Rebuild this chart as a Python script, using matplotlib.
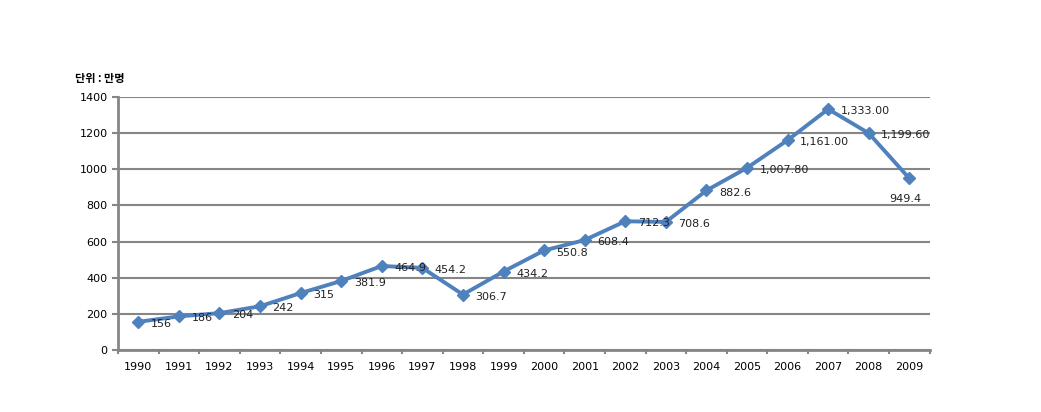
import matplotlib.pyplot as plt
import numpy as np

plt.rcParams['font.family'] = ['DejaVu Sans', 'Noto Sans CJK KR']

# 연도별 값 (단위: 만명)
years = ["1990", "1991", "1992", "1993", "1994", "1995", "1996", "1997", "1998", "1999",
         "2000", "2001", "2002", "2003", "2004", "2005", "2006", "2007", "2008", "2009"]
values = [156, 186, 204, 242, 315, 381.9, 464.9, 454.2, 306.7, 434.2,
          550.8, 608.4, 712.3, 708.6, 882.6, 1007.8, 1161.0, 1333.0, 1199.6, 949.4]
labels = ["156", "186", "204", "242", "315", "381.9", "464.9", "454.2", "306.7", "434.2",
          "550.8", "608.4", "712.3", "708.6", "882.6", "1,007.80", "1,161.00", "1,333.00",
          "1,199.60", "949.4"]
yticks = [0, 200, 400, 600, 800, 1000, 1200, 1400]

fig = plt.figure(figsize=(10.41, 4.12), dpi=100)
ax = fig.add_axes([0.1134, 0.1505, 0.7796, 0.6141])

x = np.arange(len(years))
ax.plot(x, values, color="#4F81BD", lw=2.8, marker="D", ms=6, zorder=3)

for i, (v, t) in enumerate(zip(values, labels)):
    if i == len(values) - 1:
        # 마지막 값은 아래쪽에 표시
        ax.annotate(t, (i, v), xytext=(-3, -15), textcoords="offset points",
                    ha="center", va="center", fontsize=8, color="#222222")
    else:
        ax.annotate(t, (i, v), xytext=(9, -1.5), textcoords="offset points",
                    ha="left", va="center", fontsize=8, color="#222222")

ax.set_xlim(-0.5, len(years) - 0.5)
ax.set_ylim(0, 1400)
ax.set_yticks(yticks)
ax.set_xticks(x)
ax.set_xticklabels(years, fontsize=8)
ax.set_xticks(np.arange(-0.5, len(years), 1), minor=True)
ax.tick_params(axis="x", which="major", length=0, pad=9)
ax.tick_params(axis="x", which="minor", length=3, color="#868686", width=1.5)
ax.tick_params(axis="y", length=4, color="#868686", width=1.5, labelsize=8)

ax.grid(axis="y", color="#868686", lw=1.5)
ax.set_axisbelow(True)
for s in ["top", "right"]:
    ax.spines[s].set_visible(False)
for s in ["left", "bottom"]:
    ax.spines[s].set_color("#868686")
    ax.spines[s].set_linewidth(2)

fig.text(0.072, 0.81, "단위 : 만명", fontsize=8, fontweight="bold", va="center",
         family=["Noto Sans CJK KR", "DejaVu Sans"])

fig.savefig("out.png", dpi=100)
